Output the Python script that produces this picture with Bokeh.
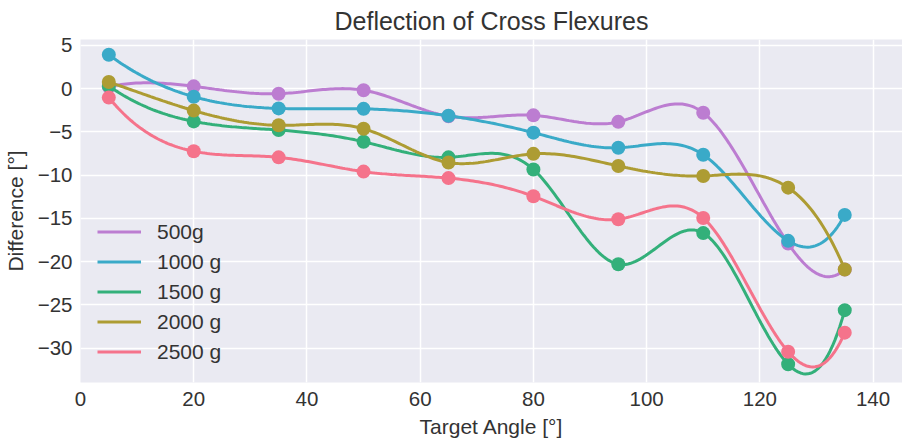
import numpy as np
from bokeh.plotting import figure
from bokeh.models import Range1d, FixedTicker, Legend, LegendItem
from bokeh.embed import file_html
from bokeh.resources import INLINE

# ---- data ----
angles = [5, 20, 35, 50, 65, 80, 95, 110, 125, 135]
labels = ["500g", "1000 g", "1500 g", "2000 g", "2500 g"]
d500 = [0.2, 0.25, -0.6, -0.2, -3.2, -3.1, -3.85, -2.8, -17.9, -20.9]
d1000 = [3.9, -0.95, -2.3, -2.35, -3.15, -5.1, -6.85, -7.65, -17.6, -14.6]
d1500 = [0.3, -3.8, -4.8, -6.15, -7.95, -9.35, -20.3, -16.7, -31.85, -25.6]
d2000 = [0.75, -2.55, -4.25, -4.65, -8.55, -7.55, -8.95, -10.1, -11.45, -20.9]
d2500 = [-1.05, -7.25, -7.95, -9.6, -10.35, -12.45, -15.1, -14.95, -30.4, -28.2]
colors = ["#bc7dd1", "#3aaac8", "#33b07a", "#ad9c33", "#f5738b"]
xticks = [0, 20, 40, 60, 80, 100, 120, 140]
yticks = [-30, -25, -20, -15, -10, -5, 0, 5]
series = [d500, d1000, d1500, d2000, d2500]


def spline(x, y, num=300):
    """Not-a-knot cubic spline through the data points."""
    x = np.asarray(x, float)
    y = np.asarray(y, float)
    n = len(x)
    h = np.diff(x)
    A = np.zeros((n, n))
    b = np.zeros(n)
    A[0, 0] = -h[1]
    A[0, 1] = h[0] + h[1]
    A[0, 2] = -h[0]
    for i in range(1, n - 1):
        A[i, i - 1] = h[i - 1]
        A[i, i] = 2 * (h[i - 1] + h[i])
        A[i, i + 1] = h[i]
        b[i] = 6 * ((y[i + 1] - y[i]) / h[i] - (y[i] - y[i - 1]) / h[i - 1])
    A[n - 1, n - 3] = -h[n - 2]
    A[n - 1, n - 2] = h[n - 3] + h[n - 2]
    A[n - 1, n - 1] = -h[n - 3]
    M = np.linalg.solve(A, b)
    xs = np.linspace(x[0], x[-1], num)
    idx = np.clip(np.searchsorted(x, xs) - 1, 0, n - 2)
    x0, x1 = x[idx], x[idx + 1]
    hh = x1 - x0
    ys = (M[idx] * (x1 - xs) ** 3 / (6 * hh) + M[idx + 1] * (xs - x0) ** 3 / (6 * hh)
          + (y[idx] / hh - M[idx] * hh / 6) * (x1 - xs)
          + (y[idx + 1] / hh - M[idx + 1] * hh / 6) * (xs - x0))
    return xs, ys


FONT = "Liberation Sans"
TXT = "#333333"

p = figure(frame_width=822, frame_height=343, output_backend="svg", toolbar_location=None,
           x_range=Range1d(0, 145.2), y_range=Range1d(-33.96, 5.66),
           title="Deflection of Cross Flexures",
           min_border_left=80, min_border_right=0, min_border_top=37, min_border_bottom=60)
p.background_fill_color = "#eaeaf2"
p.border_fill_color = "white"
p.outline_line_color = None

p.title.align = "center"
p.title.text_font = FONT
p.title.text_font_size = "25px"
p.title.text_font_style = "normal"
p.title.text_color = TXT
p.title.standoff = 9
p.title.offset = 0

for ax in (p.xaxis[0], p.yaxis[0]):
    ax.axis_line_color = None
    ax.major_tick_line_color = None
    ax.minor_tick_line_color = None
    ax.major_tick_in = 0
    ax.major_tick_out = 0
    ax.major_label_text_font = FONT
    ax.major_label_text_font_size = "20.5px"
    ax.major_label_text_color = TXT
    ax.axis_label_text_font = FONT
    ax.axis_label_text_font_size = "21px"
    ax.axis_label_text_font_style = "normal"
    ax.axis_label_text_color = TXT

p.yaxis.major_label_standoff = 8
p.yaxis.axis_label_standoff = 8
p.xaxis.major_label_standoff = 9
p.xaxis.axis_label_standoff = 6

p.xaxis.axis_label = "Target Angle [°]"
p.yaxis.axis_label = "Difference [°]"
p.xaxis.ticker = FixedTicker(ticks=xticks)
p.yaxis.ticker = FixedTicker(ticks=yticks)
p.yaxis.major_label_overrides = {t: (str(t).replace("-", "\u2212")) for t in yticks}

p.grid.grid_line_color = "white"
p.grid.grid_line_width = 1.5
p.xgrid.ticker = FixedTicker(ticks=xticks)
p.ygrid.ticker = FixedTicker(ticks=yticks)

items = []
for lab, ys, col in zip(labels, series, colors):
    sx, sy = spline(angles, ys)
    r = p.line(sx, sy, line_color=col, line_width=3)
    p.scatter(angles, ys, size=14, fill_color=col, line_color=col, line_width=0)
    items.append(LegendItem(label=lab, renderers=[r]))

legend = Legend(items=items, location=(17, 17), padding=0, margin=0,
                border_line_color=None, background_fill_alpha=0,
                label_text_font=FONT, label_text_font_size="21px", label_text_color=TXT,
                glyph_width=44, glyph_height=27, label_height=27, spacing=3,
                label_standoff=16)
p.add_layout(legend, "center")

open("out.html", "w").write(file_html(p, INLINE))
